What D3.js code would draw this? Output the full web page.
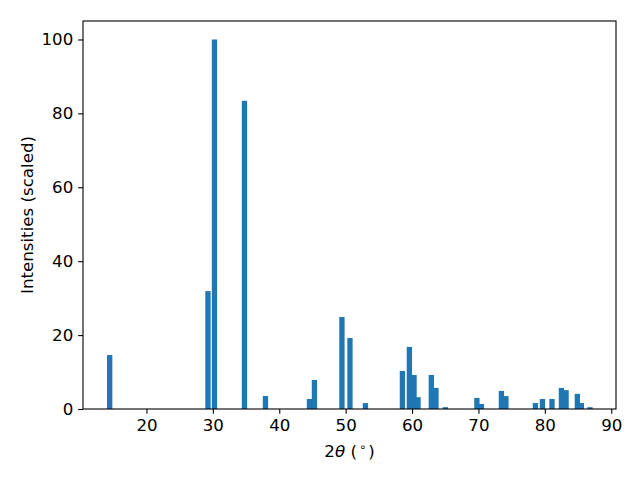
<!DOCTYPE html>
<html>
<head>
<meta charset="utf-8">
<script src="https://cdn.jsdelivr.net/npm/d3@7"></script>
<style>
  html, body { margin: 0; padding: 0; background: #fff; }
  text { font-family: "DejaVu Sans", sans-serif; fill: #000; }
</style>
</head>
<body>
<svg id="chart" width="640" height="480"></svg>
<script>
// Peak positions (2θ, degrees) and scaled intensities
const twoTheta = [14.46, 29.26, 30.24, 34.76, 37.92, 44.55, 45.3, 49.44, 50.65, 52.98,
                  58.55, 59.6, 60.3, 60.9, 62.9, 63.6, 65.03, 69.77, 70.45, 73.46,
                  74.14, 78.58, 79.64, 81.08, 82.5, 83.2, 84.9, 85.5, 86.8];
const intensity = [14.6, 31.9, 100, 83.4, 3.5, 2.7, 7.85, 24.9, 19.2, 1.6,
                   10.3, 16.8, 9.2, 3.2, 9.2, 5.7, 0.5, 3.0, 1.35, 4.9,
                   3.5, 1.6, 2.7, 2.7, 5.7, 5.1, 4.1, 1.6, 0.5];
const barWidth = 0.8;
const xTicks = [20, 30, 40, 50, 60, 70, 80, 90];
const yTicks = [0, 20, 40, 60, 80, 100];
const xDomain = [10.44, 90.72];
const yDomain = [0, 105];

const svg = d3.select("#chart");
const L = 83, R = 616, T = 21, B = 409;
const x = d3.scaleLinear().domain(xDomain).range([L, R]);
const y = d3.scaleLinear().domain(yDomain).range([B, T]);

const data = twoTheta.map((t, i) => ({t, v: intensity[i]}));

svg.append("g").selectAll("rect").data(data).enter().append("rect")
  .attr("x", d => x(d.t - barWidth / 2))
  .attr("width", d => x(d.t + barWidth / 2) - x(d.t - barWidth / 2))
  .attr("y", d => y(d.v))
  .attr("height", d => y(0) - y(d.v))
  .attr("fill", "#1f77b4");

const fs = "16.67px";
const xAxis = d3.axisBottom(x).tickValues(xTicks).tickFormat(d3.format("d"))
  .tickSize(4.86).tickPadding(4.86);
const yAxis = d3.axisLeft(y).tickValues(yTicks).tickFormat(d3.format("d"))
  .tickSize(4.86).tickPadding(4.86);

const gx = svg.append("g").attr("transform", `translate(0,${B})`).call(xAxis);
const gy = svg.append("g").attr("transform", `translate(${L},0)`).call(yAxis);
[gx, gy].forEach(g => {
  g.select(".domain").remove();
  g.selectAll(".tick line").attr("stroke", "#000").attr("stroke-width", 1.1);
  g.selectAll(".tick text").style("font-size", fs).style("font-family", "DejaVu Sans").attr("fill", "#000");
});

// frame
svg.append("rect").attr("x", L).attr("y", T).attr("width", R - L).attr("height", B - T)
  .attr("fill", "none").attr("stroke", "#000").attr("stroke-width", 1.1);

// x label
const xl = svg.append("text").attr("x", (L + R) / 2).attr("y", 457)
  .attr("text-anchor", "middle").style("font-size", fs);
xl.append("tspan").text("2");
xl.append("tspan").style("font-style", "italic").text("θ");
xl.append("tspan").text(" (");
xl.append("tspan").attr("dx", 2).attr("dy", -6).style("font-size", "11.5px").text("∘");
xl.append("tspan").attr("dx", 2).attr("dy", 6).text(")");

// y label
svg.append("text").attr("transform", `translate(33,${(T + B) / 2}) rotate(-90)`)
  .attr("text-anchor", "middle").style("font-size", fs).text("Intensities (scaled)");
</script>
</body>
</html>
